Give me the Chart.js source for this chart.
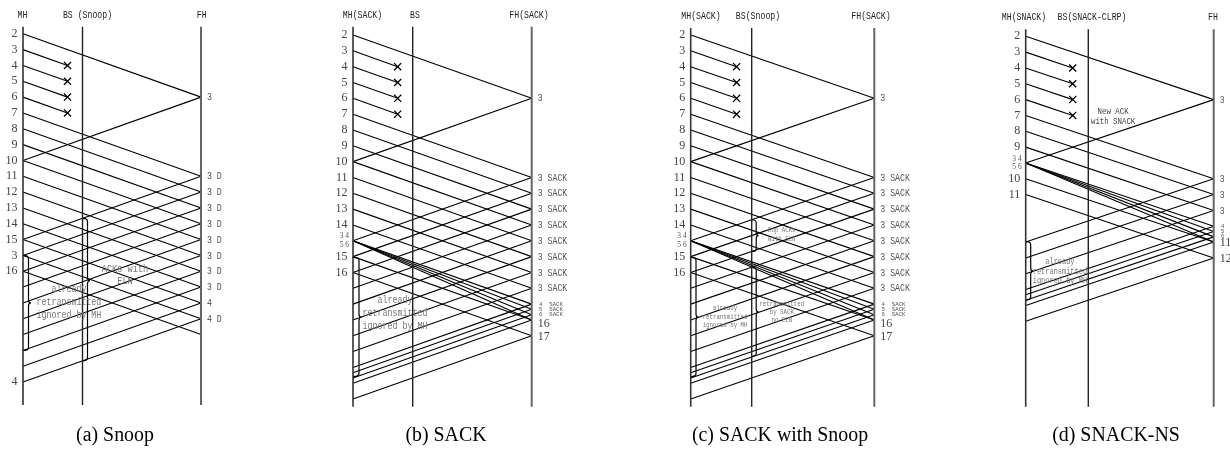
<!DOCTYPE html>
<html>
<head>
<meta charset="utf-8">
<script src="https://cdn.jsdelivr.net/npm/chart.js@4/dist/chart.umd.min.js"></script>
<style>
  html, body { margin: 0; padding: 0; background: #fff; }
  #wrap { position: relative; width: 1230px; height: 462px; overflow: hidden; background: #fff; }
  #wrap canvas { position: absolute; left: 0; top: 0; }
</style>
</head>
<body>
<div id="wrap">
  <canvas id="pa" width="1230" height="462"></canvas>
  <canvas id="pb" width="1230" height="462"></canvas>
  <canvas id="pc" width="1230" height="462"></canvas>
  <canvas id="pd" width="1230" height="462"></canvas>
</div>
<script>
// Time is measured in packet slots; x runs from the MH lifeline (0) to the FH lifeline (1).
const DELAY = 4;     // one-way MH <-> FH transit, in slots
const LOSS_AT = 1;   // slots after sending at which a packet is lost on the wireless hop

// ---- (a) Snoop ----
const snoopMhTimes  = [0, 1, 2, 3, 4, 5, 6, 7, 8, 9, 10, 11, 12, 13, 14, 15, 22];
const snoopMhLabels = ['2','3','4','5','6','7','8','9','10','11','12','13','14','15','3','16','4'];
const snoopDataSent = [0, 5, 6, 7, 8, 9, 10, 11, 12, 13, 14, 15];
const snoopDataLost = [1, 2, 3, 4];
const snoopAcksSent = [4, 9, 10, 11, 12, 13, 14, 15, 16, 17, 18];
const snoopFhTimes  = [4, 9, 10, 11, 12, 13, 14, 15, 16, 17, 18];
const snoopFhLabels = ['3','3 D','3 D','3 D','3 D','3 D','3 D','3 D','3 D','4','4 D'];

// ---- (b) SACK ----
const sackMhTimes   = [0, 1, 2, 3, 4, 5, 6, 7, 8, 9, 10, 11, 12, 14, 15];
const sackMhLabels  = ['2','3','4','5','6','7','8','9','10','11','12','13','14','15','16'];
const sackBurstAt   = 13;
const sackBurstText = ['3 4', '5 6'];
const sackBurstArrive = [17, 17.33, 17.67, 18];
const sackDataSent  = [0, 5, 6, 7, 8, 9, 10, 11, 12, 14, 15];
const sackDataLost  = [1, 2, 3, 4];
const sackAcksSent  = [4, 9, 10, 11, 12, 13, 14, 15, 16, 17, 17.33, 17.67, 18, 19];
const sackFhTimes   = [4, 9, 10, 11, 12, 13, 14, 15, 16];
const sackFhLabels  = ['3','3 SACK','3 SACK','3 SACK','3 SACK','3 SACK','3 SACK','3 SACK','3 SACK'];
const sackFhSmallTimes  = [17, 17.33, 17.67];
const sackFhSmallLabels = ['4  SACK', '5  SACK', '6  SACK'];
const sackFhBigTimes    = [18, 19];
const sackFhBigLabels   = ['16', '17'];

// ---- (c) SACK with Snoop ----
const ssMhTimes   = [0, 1, 2, 3, 4, 5, 6, 7, 8, 9, 10, 11, 12, 14, 15];
const ssMhLabels  = ['2','3','4','5','6','7','8','9','10','11','12','13','14','15','16'];
const ssBurstAt   = 13;
const ssBurstText = ['3 4', '5 6'];
const ssBurstArrive = [17, 17.33, 17.67, 18];
const ssDataSent  = [0, 5, 6, 7, 8, 9, 10, 11, 12, 14, 15];
const ssDataLost  = [1, 2, 3, 4];
const ssAcksSent  = [4, 9, 10, 11, 12, 13, 14, 15, 16, 17, 17.33, 17.67, 18, 19];
const ssFhTimes   = [4, 9, 10, 11, 12, 13, 14, 15, 16];
const ssFhLabels  = ['3','3 SACK','3 SACK','3 SACK','3 SACK','3 SACK','3 SACK','3 SACK','3 SACK'];
const ssFhSmallTimes  = [17, 17.33, 17.67];
const ssFhSmallLabels = ['4  SACK', '5  SACK', '6  SACK'];
const ssFhBigTimes    = [18, 19];
const ssFhBigLabels   = ['16', '17'];

// ---- (d) SNACK-NS ----
const snackMhTimes   = [0, 1, 2, 3, 4, 5, 6, 7, 9, 10];
const snackMhLabels  = ['2','3','4','5','6','7','8','9','10','11'];
const snackBurstAt   = 8;
const snackBurstText = ['3 4', '5 6'];
const snackBurstArrive = [12, 12.33, 12.67, 13];
const snackDataSent  = [0, 5, 6, 7, 9, 10];
const snackDataLost  = [1, 2, 3, 4];
const snackAcksSent  = [4, 9, 10, 11, 12, 12.33, 12.67, 13, 14];
const snackFhTimes   = [4, 9, 10, 11];
const snackFhLabels  = ['3', '3 D', '3 D', '3 D'];
const snackFhSmallTimes  = [12, 12.33, 12.67];
const snackFhSmallLabels = ['4', '5', '6'];
const snackFhBigTimes    = [13, 14];
const snackFhBigLabels   = ['11', '12'];

const SLOT_PX = 15.83;
const W = 1230, H = 462;
const MONO = '"Liberation Mono", monospace';
const SERIF = '"Liberation Serif", "Times New Roman", serif';

const panels = [
  {
    id: 'pa', mh: 23, bs: 82.5, fh: 201, y0: 33.8, top: 26.7, bottom: 405,
    headers: [['MH', 'mh', -0.5], ['BS (Snoop)', 'bs', 5], ['FH', 'fh', 0.7]],
    mhTimes: snoopMhTimes, mhLabels: snoopMhLabels,
    dataSent: snoopDataSent, dataLost: snoopDataLost, acksSent: snoopAcksSent,
    fhTimes: snoopFhTimes, fhLabels: snoopFhLabels,
    braces: [
      { lane: 'mh', off: 5.5, t0: 14, t1: 20, tm: 17 },
      { lane: 'bs', off: 5, t0: 11.66, t1: 20.66, tm: 15.6 }
    ],
    notes: [
      { lines: ['already', 'retransmitted', 'ignored by MH'], x: 0.258, t: 16.12, lh: 13, size: 10, sx: 0.83, color: '#777' },
      { lines: ['ACKs with', 'ELN'], x: 0.573, t: 14.9, lh: 12, size: 10, sx: 0.86, color: '#777' }
    ],
    caption: '(a) Snoop', capX: 115
  },
  {
    id: 'pb', mh: 353, bs: 412.7, fh: 531.7, y0: 35, top: 26.7, bottom: 406.7,
    headers: [['MH(SACK)', 'mh', 9.5], ['BS', 'bs', 2.3], ['FH(SACK)', 'fh', -2.7]],
    mhTimes: sackMhTimes, mhLabels: sackMhLabels,
    burstAt: sackBurstAt, burstText: sackBurstText, burstArrive: sackBurstArrive,
    dataSent: sackDataSent, dataLost: sackDataLost, acksSent: sackAcksSent,
    fhTimes: sackFhTimes, fhLabels: sackFhLabels,
    fhSmallTimes: sackFhSmallTimes, fhSmallLabels: sackFhSmallLabels,
    fhBigTimes: sackFhBigTimes, fhBigLabels: sackFhBigLabels, bigNudge: [4, 1.5],
    braces: [
      { lane: 'mh', off: 6, t0: 14.05, t1: 21.58, tm: 17.83 }
    ],
    notes: [
      { lines: ['already', 'retransmitted', 'ignored by MH'], x: 0.235, t: 16.77, lh: 13, size: 10, sx: 0.83, color: '#777' }
    ],
    caption: '(b) SACK', capX: 446
  },
  {
    id: 'pc', mh: 690.7, bs: 751.7, fh: 874.3, y0: 35, top: 28, bottom: 406.7,
    headers: [['MH(SACK)', 'mh', 10.3], ['BS(Snoop)', 'bs', 6.3], ['FH(SACK)', 'fh', -3.3]],
    mhTimes: ssMhTimes, mhLabels: ssMhLabels,
    burstAt: ssBurstAt, burstText: ssBurstText, burstArrive: ssBurstArrive,
    dataSent: ssDataSent, dataLost: ssDataLost, acksSent: ssAcksSent,
    fhTimes: ssFhTimes, fhLabels: ssFhLabels,
    fhSmallTimes: ssFhSmallTimes, fhSmallLabels: ssFhSmallLabels,
    fhBigTimes: ssFhBigTimes, fhBigLabels: ssFhBigLabels, bigNudge: [4, 1.5],
    braces: [
      { lane: 'mh', off: 5.3, t0: 14.05, t1: 21.58, tm: 17.83 },
      { lane: 'bs', off: 4.5, t0: 11.67, t1: 13.67, tm: 12.67 },
      { lane: 'bs', off: 4.5, t0: 14.67, t1: 20.3, tm: 17.5 }
    ],
    notes: [
      { lines: ['already', 'retransmitted', 'ignored by MH'], x: 0.187, t: 17.26, lh: 8.7, size: 7, sx: 0.82, color: '#777' },
      { lines: ['Dup ACKs', 'with ELN'], x: 0.496, t: 12.34, lh: 8.5, size: 7, sx: 0.82, color: '#777' },
      { lines: ['retransmitted', 'by SACK', 'no ELN'], x: 0.496, t: 16.98, lh: 8.3, size: 7, sx: 0.82, color: '#777' }
    ],
    caption: '(c) SACK with Snoop', capX: 780
  },
  {
    id: 'pd', mh: 1025.7, bs: 1088.3, fh: 1213.7, y0: 36.3, top: 29.3, bottom: 406.7,
    headers: [['MH(SNACK)', 'mh', -1.7], ['BS(SNACK-CLRP)', 'bs', 3.7], ['FH', 'fh', -0.7]],
    mhTimes: snackMhTimes, mhLabels: snackMhLabels,
    burstAt: snackBurstAt, burstText: snackBurstText, burstArrive: snackBurstArrive,
    dataSent: snackDataSent, dataLost: snackDataLost, acksSent: snackAcksSent,
    fhTimes: snackFhTimes, fhLabels: snackFhLabels,
    fhSmallTimes: snackFhSmallTimes, fhSmallLabels: snackFhSmallLabels,
    fhBigTimes: snackFhBigTimes, fhBigLabels: snackFhBigLabels, bigNudge: [0.5, 0.5],
    braces: [
      { lane: 'mh', off: 5, t0: 12.97, t1: 16.66, tm: 14.83 }
    ],
    notes: [
      { lines: ['already', 'retransmitted', 'ignored by MH'], x: 0.182, t: 14.24, lh: 9.7, size: 8.5, sx: 0.82, color: '#777' },
      { lines: ['New ACK', 'with SNACK'], x: 0.465, t: 4.76, lh: 10, size: 9, sx: 0.82, color: '#444' }
    ],
    caption: '(d) SNACK-NS', capX: 1116
  }
];

function seg(x1, t1, x2, t2, color, width) {
  return {
    data: [{ x: x1, y: t1 }, { x: x2, y: t2 }],
    showLine: true, pointRadius: 0, pointHoverRadius: 0,
    borderColor: color || '#000', borderWidth: width || 1.1,
    clip: false, fill: false
  };
}

function text(ctx, s, x, y, o) {
  ctx.save();
  ctx.font = (o.weight || '') + ' ' + o.size + 'px ' + (o.family || MONO);
  ctx.fillStyle = o.color || '#000';
  ctx.textBaseline = 'middle';
  ctx.textAlign = o.align || 'left';
  ctx.translate(x, y);
  ctx.scale(o.sx || 1, 1);
  ctx.fillText(s, 0, 0);
  ctx.restore();
}

function brace(ctx, xLane, bx, yTop, yBot, yMid, nub) {
  const r = 3;
  ctx.save();
  ctx.strokeStyle = '#000';
  ctx.lineWidth = 1.2;
  ctx.beginPath();
  ctx.moveTo(xLane, yTop);
  ctx.quadraticCurveTo(bx, yTop, bx, yTop + r);
  ctx.lineTo(bx, yMid - r);
  ctx.quadraticCurveTo(bx, yMid, bx + nub, yMid);
  ctx.quadraticCurveTo(bx, yMid, bx, yMid + r);
  ctx.lineTo(bx, yBot - r);
  ctx.quadraticCurveTo(bx, yBot, xLane, yBot);
  ctx.stroke();
  ctx.restore();
}

panels.forEach(p => {
  const tMin = (p.top - p.y0) / SLOT_PX;
  const tMax = (p.bottom - p.y0) / SLOT_PX;
  const bsFrac = (p.bs - p.mh) / (p.fh - p.mh);
  const lossX = LOSS_AT / DELAY;
  const ds = [];

  // lifelines
  ds.push(seg(0, tMin, 0, tMax, '#333', 1.6));
  ds.push(seg(bsFrac, tMin, bsFrac, tMax, '#222', 1.4));
  ds.push(seg(1, tMin, 1, tMax, '#666', 2));

  // data packets MH -> FH
  p.dataSent.forEach(t => ds.push(seg(0, t, 1, t + DELAY)));
  // packets lost on the wireless hop
  p.dataLost.forEach(t => ds.push(seg(0, t, lossX, t + LOSS_AT)));
  // burst of selective retransmissions
  if (p.burstArrive) p.burstArrive.forEach(ta => ds.push(seg(0, p.burstAt, 1, ta)));
  // acknowledgements FH -> MH
  p.acksSent.forEach(t => ds.push(seg(1, t, 0, t + DELAY)));
  // loss markers
  ds.push({
    data: p.dataLost.map(t => ({ x: lossX, y: t + LOSS_AT })),
    showLine: false, pointStyle: 'crossRot', pointRadius: 5, pointHoverRadius: 5,
    borderColor: '#000', pointBorderWidth: 1.3, borderWidth: 1.3, clip: false
  });

  const decor = {
    id: 'decor_' + p.id,
    afterDatasetsDraw(chart) {
      const ctx = chart.ctx;
      const xs = chart.scales.x, ys = chart.scales.y;
      const laneX = { mh: xs.getPixelForValue(0), bs: xs.getPixelForValue(bsFrac), fh: xs.getPixelForValue(1) };
      const Y = t => ys.getPixelForValue(t);

      // lifeline headings
      p.headers.forEach(([s, lane, dx]) => {
        text(ctx, s, laneX[lane] + dx, p.top - 11.7, { size: 10, sx: 0.82, color: '#222', align: 'center' });
      });

      // packet numbers on the MH side
      p.mhTimes.forEach((t, i) => {
        text(ctx, p.mhLabels[i], laneX.mh - 5.5, Y(t), { size: 12, family: SERIF, color: '#444', align: 'right' });
      });
      if (p.burstText) {
        text(ctx, p.burstText[0], laneX.mh - 4, Y(p.burstAt) - 4.3, { size: 7.5, family: SERIF, color: '#555', align: 'right' });
        text(ctx, p.burstText[1], laneX.mh - 4, Y(p.burstAt) + 4.3, { size: 7.5, family: SERIF, color: '#555', align: 'right' });
      }

      // acknowledgement labels on the FH side
      p.fhTimes.forEach((t, i) => {
        text(ctx, p.fhLabels[i], laneX.fh + 6, Y(t) + 0.5, { size: 10, sx: 0.82, color: '#555' });
      });
      if (p.fhSmallTimes) p.fhSmallTimes.forEach((t, i) => {
        text(ctx, p.fhSmallLabels[i], laneX.fh + 7.3, Y(t), { size: 6.2, sx: 0.92, color: '#555' });
      });
      if (p.fhBigTimes) p.fhBigTimes.forEach((t, i) => {
        text(ctx, p.fhBigLabels[i], laneX.fh + 6, Y(t) + p.bigNudge[i], { size: 12, family: SERIF, color: '#444' });
      });

      // braces
      p.braces.forEach(b => {
        const lx = laneX[b.lane];
        brace(ctx, lx + 0.5, lx + b.off, Y(b.t0), Y(b.t1), Y(b.tm), 2.5);
      });

      // notes
      p.notes.forEach(n => {
        const cx = xs.getPixelForValue(n.x);
        n.lines.forEach((s, k) => {
          text(ctx, s, cx, Y(n.t) + k * n.lh, { size: n.size, sx: n.sx, color: n.color, align: 'center' });
        });
      });

      // caption
      text(ctx, p.caption, p.capX, 436, { size: 20.5, family: SERIF, color: '#000', align: 'center', sx: 0.97 });
    }
  };

  new Chart(document.getElementById(p.id), {
    type: 'scatter',
    data: { datasets: ds },
    options: {
      responsive: false,
      animation: false,
      devicePixelRatio: 1,
      events: [],
      layout: { padding: { left: p.mh, right: W - p.fh, top: p.top, bottom: H - p.bottom } },
      scales: {
        x: { type: 'linear', min: 0, max: 1, display: false },
        y: { type: 'linear', min: tMin, max: tMax, reverse: true, display: false }
      },
      plugins: { legend: { display: false }, tooltip: { enabled: false }, title: { display: false } }
    },
    plugins: [decor]
  });
});
</script>
</body>
</html>
